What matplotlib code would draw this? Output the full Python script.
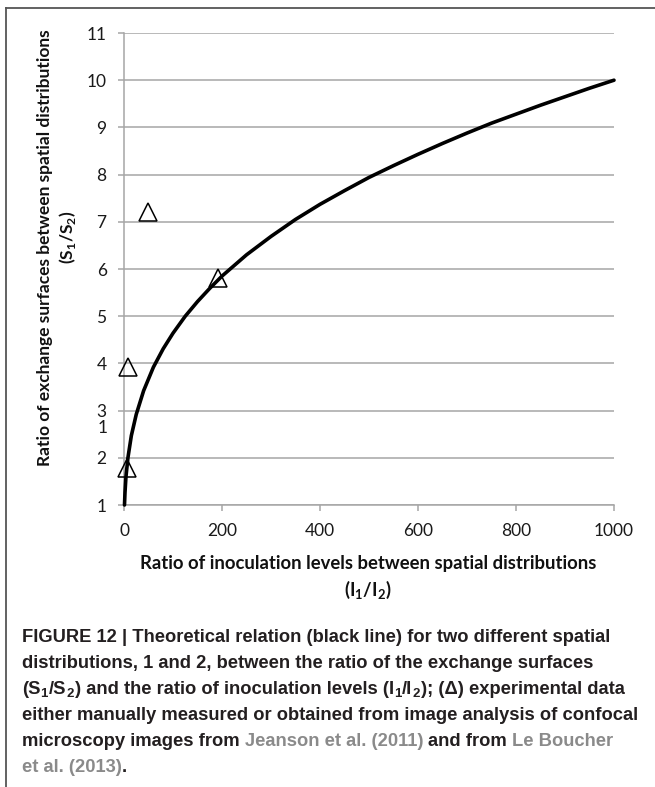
import matplotlib
matplotlib.use('Agg')
import matplotlib.pyplot as plt
from matplotlib.lines import Line2D

# curve (theoretical relation)
inoc_ratio = [1, 2, 4, 8, 15, 25, 40, 60, 80, 100, 125, 150, 175, 200, 250, 300, 350, 400,
              450, 500, 550, 600, 650, 700, 750, 800, 850, 900, 950, 1000]
surf_ratio = [1.0, 1.26, 1.6, 2.0, 2.47, 2.92, 3.42, 3.92, 4.31, 4.64, 5.0, 5.31, 5.59, 5.85,
              6.3, 6.69, 7.05, 7.37, 7.66, 7.94, 8.19, 8.43, 8.66, 8.88, 9.09, 9.28, 9.47,
              9.65, 9.83, 10.0]

# experimental points (triangles)
exp_inoc = [6, 8, 48, 192]
exp_surf = [1.78, 3.92, 7.2, 5.8]

x_ticks = [0, 200, 400, 600, 800, 1000]
y_ticks = [1, 2, 3, 4, 5, 6, 7, 8, 9, 10, 11]

W, H = 655, 787
plt.rcParams['mathtext.fontset'] = 'custom'
plt.rcParams['mathtext.rm'] = 'Lato'
plt.rcParams['mathtext.bf'] = 'Lato:bold'

fig = plt.figure(figsize=(W/100, H/100), dpi=100)

def fx(px):
    return px / W

def fy(py):
    return 1 - py / H

ax = fig.add_axes([fx(124), fy(505), fx(614) - fx(124), fy(33) - fy(505)])
grey = '#a6a6a6'
ax.plot(inoc_ratio, surf_ratio, color='black', lw=2.6, clip_on=False, zorder=3,
        solid_joinstyle='round', solid_capstyle='round')
ax.plot(exp_inoc, exp_surf, ls='none', marker='^', ms=12.5, mfc='none', mec='black', mew=1.1,
        clip_on=False, zorder=4)

ax.set_xlim(0, 1000)
ax.set_ylim(1, 11)
ax.set_xticks(x_ticks)
ax.set_yticks(y_ticks)
ax.yaxis.grid(True, color=grey, lw=1.1)
ax.set_axisbelow(True)
for s in ['top', 'right']:
    ax.spines[s].set_visible(False)
for s in ['left', 'bottom']:
    ax.spines[s].set_color(grey)
    ax.spines[s].set_linewidth(1.1)
ax.tick_params(axis='y', length=4.5, color=grey, width=1.1, pad=8, labelsize=12.5)
ax.tick_params(axis='x', length=4, color=grey, width=1.1, pad=9, labelsize=12.5)
for lab in ax.get_xticklabels() + ax.get_yticklabels():
    lab.set_fontfamily('Lato')
    lab.set_color('#1a1a1a')

# stray label in the original
fig.text(fx(103), fy(428), '1', ha='center', va='center', fontsize=12.5, family='Lato', color='#1a1a1a')

# axis titles
lab_kw = dict(ha='center', va='center', fontweight='bold', family='Lato', color='#111111')
fig.text(fx(45), fy(248), 'Ratio of exchange surfaces between spatial distributions', rotation=90,
         fontsize=12.5, **lab_kw)
fig.text(fx(68), fy(237), r'(S$_\mathbf{1}$/S$_\mathbf{2}$)', rotation=90, fontsize=12.5, **lab_kw)
fig.text(fx(368), fy(564), 'Ratio of inoculation levels between spatial distributions',
         fontsize=13.3, **lab_kw)
fig.text(fx(368), fy(590), r'(I$_\mathbf{1}$/I$_\mathbf{2}$)', fontsize=13.3, **lab_kw)

# frame lines
fig.add_artist(Line2D([fx(6), 1], [fy(8), fy(8)], color='#555555', lw=1.3))
fig.add_artist(Line2D([fx(6), fx(6)], [fy(8), 0], color='#555555', lw=1.3))

# caption
k = '#231f20'
g = '#8a8a8a'
cap_font = ['Liberation Sans', 'DejaVu Sans']
cap_size = 13.2
cap_lines = [
    [("FIGURE 12 | Theoretical relation (black line) for two different spatial", k, False)],
    [("distributions, 1 and 2, between the ratio of the exchange surfaces", k, False)],
    [("(S", k, False), ("1", k, True), ("/S", k, False), ("2", k, True),
     (") and the ratio of inoculation levels (I", k, False), ("1", k, True), ("/I", k, False),
     ("2", k, True), ("); (\u0394) experimental data", k, False)],
    [("either manually measured or obtained from image analysis of confocal", k, False)],
    [("microscopy images from", k, False), (" Jeanson et al. (2011)", g, False),
     (" and from", k, False), (" Le Boucher", g, False)],
    [("et al. (2013)", g, False), (".", k, False)],
]
cap_y = [638, 664, 690, 716, 742, 768]

renderer = fig.canvas.get_renderer()
probe = fig.text(0, 0, 'a a', family=cap_font, fontsize=cap_size, fontweight='bold')
w_sp = probe.get_window_extent(renderer).width
probe.set_text('aa')
w_sp -= probe.get_window_extent(renderer).width
probe.remove()

for line, y in zip(cap_lines, cap_y):
    x = 22
    for txt, col, sub in line:
        lead = len(txt) - len(txt.lstrip(' '))
        x += lead * w_sp
        body = txt.strip(' ')
        size = cap_size * 0.72 if sub else cap_size
        yy = y + 4 if sub else y
        t = fig.text(fx(x), fy(yy), body, family=cap_font, fontsize=size, fontweight='bold',
                     color=col, ha='left', va='center')
        x += t.get_window_extent(renderer).width + (1 if sub else 0)

fig.savefig('out.png', dpi=100)
